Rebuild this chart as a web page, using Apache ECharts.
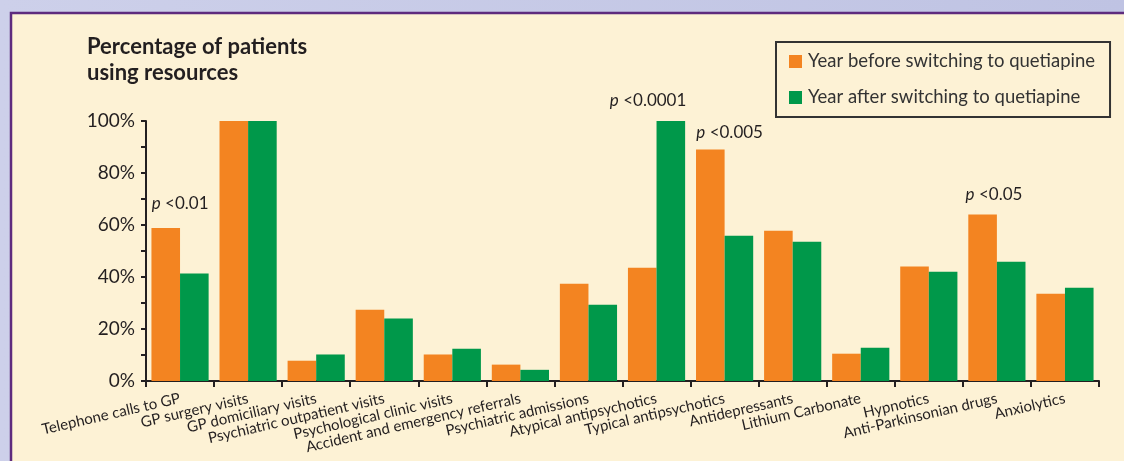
<!DOCTYPE html>
<html>
<head>
<meta charset="utf-8">
<script src="https://cdn.jsdelivr.net/npm/echarts@6/dist/echarts.min.js"></script>
<style>
  html, body { margin: 0; padding: 0; }
  #main { width: 1124px; height: 461px; }
</style>
</head>
<body>
<div id="main"></div>
<script>
// categories and values (% of patients)
var categories = [
  'Telephone calls to GP', 'GP surgery visits', 'GP domiciliary visits',
  'Psychiatric outpatient visits', 'Psychological clinic visits',
  'Accident and emergency referrals', 'Psychiatric admissions',
  'Atypical antipsychotics', 'Typical antipsychotics', 'Antidepressants',
  'Lithium Carbonate', 'Hypnotics', 'Anti-Parkinsonian drugs', 'Anxiolytics'
];
var seriesNames = ['Year before switching to quetiapine', 'Year after switching to quetiapine'];
var before = [58.8, 100, 7.8, 27.4, 10.2, 6.3, 37.4, 43.6, 89, 57.8, 10.5, 44, 64, 33.6];
var after  = [41.3, 100, 10.2, 24, 12.4, 4.3, 29.3, 100, 55.9, 53.6, 12.8, 42, 45.9, 35.9];
var yTicks = [0, 20, 40, 60, 80, 100];

// significance notes: category index, which series bar it sits on, text
var pCats   = [0, 7, 8, 12];
var pSeries = [0, 1, 0, 0];
var pTexts  = ['<0.01', '<0.0001', '<0.005', '<0.05'];

window.onload = function() {
  var myChart = echarts.init(document.getElementById('main'));

  var orange = '#f38421';
  var green = '#00984a';
  var ink = '#231f20';
  var font = 'Lato';

  // label placement for each note (offset from the bar top centre)
  var pOffsets = [[-14, -25], [-61, -20], [-14, -17], [-17, -20]];

  function buildData(values, sIdx) {
    return values.map(function(v, i) {
      var item = { value: v };
      for (var k = 0; k < pCats.length; k++) {
        if (pCats[k] === i && pSeries[k] === sIdx) {
          item.label = {
            show: true,
            position: 'top',
            distance: 0,
            align: 'left',
            verticalAlign: 'middle',
            offset: pOffsets[k],
            formatter: '{i|p} ' + pTexts[k],
            color: ink,
            fontFamily: font,
            fontSize: 17,
            rich: { i: { fontStyle: 'italic', fontSize: 17, fontFamily: font, color: ink } }
          };
        }
      }
      return item;
    });
  }

  var option = {
    animation: false,
    backgroundColor: {
      type: 'linear', x: 0, y: 0, x2: 1, y2: 0,
      colorStops: [
        { offset: 0, color: '#cdd0ea' },
        { offset: 1, color: '#bfc3e3' }
      ]
    },
    graphic: [{
      type: 'rect',
      z: -10,
      shape: { x: 11, y: 13, width: 1200, height: 500 },
      style: { fill: '#fdf2d5', stroke: '#5e2b7e', lineWidth: 2.5 }
    }],
    title: {
      text: 'Percentage of patients\nusing resources',
      left: 87,
      top: 34,
      padding: 0,
      textStyle: { fontFamily: font, fontSize: 22, fontWeight: 'bold', color: ink, lineHeight: 26 }
    },
    legend: {
      orient: 'vertical',
      left: 776,
      top: 42,
      padding: [10, 15, 10, 13],
      borderColor: '#333',
      borderWidth: 2,
      itemWidth: 13,
      itemHeight: 13,
      itemGap: 17,
      icon: 'rect',
      textStyle: { fontFamily: font, fontSize: 18.5, color: '#333', padding: [0, 0, 0, 1] },
      data: seriesNames
    },
    grid: { left: 146, right: 25, top: 121, bottom: 80, containLabel: false },
    xAxis: {
      type: 'category',
      data: categories,
      axisLine: { lineStyle: { color: ink, width: 2 } },
      axisTick: { show: true, length: 6, lineStyle: { color: ink, width: 2 } },
      axisLabel: {
        interval: 0,
        rotate: 13,
        margin: 17,
        fontFamily: font,
        fontSize: 15,
        color: ink
      }
    },
    yAxis: {
      type: 'value',
      min: 0,
      max: 100,
      interval: 10,
      axisLine: { show: true, lineStyle: { color: ink, width: 2 } },
      axisTick: { show: true, length: 5, lineStyle: { color: ink, width: 2 } },
      splitLine: { show: false },
      axisLabel: {
        margin: 11,
        fontFamily: font,
        fontSize: 19,
        color: ink,
        formatter: function(v) { return yTicks.indexOf(v) >= 0 ? v + '%' : ''; }
      }
    },
    series: [
      {
        name: seriesNames[0],
        type: 'bar',
        data: buildData(before, 0),
        barGap: '0%',
        barCategoryGap: '16%',
        itemStyle: { color: orange }
      },
      {
        name: seriesNames[1],
        type: 'bar',
        data: buildData(after, 1),
        barGap: '0%',
        barCategoryGap: '16%',
        itemStyle: { color: green }
      }
    ]
  };
  myChart.setOption(option);
};
</script>
</body>
</html>
